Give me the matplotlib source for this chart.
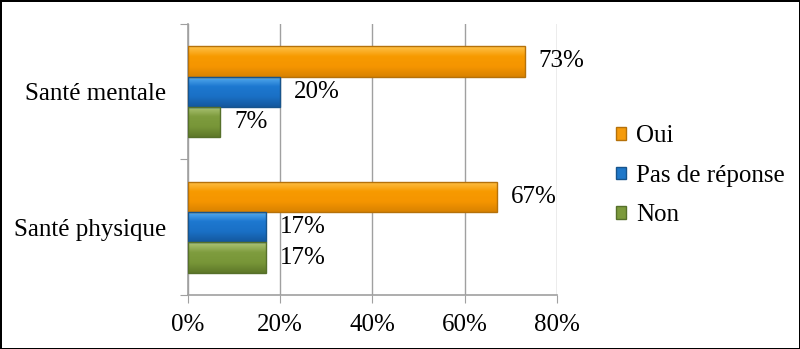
import matplotlib.pyplot as plt
from matplotlib.patches import Patch
from matplotlib.colors import LinearSegmentedColormap
import numpy as np

plt.rcParams['font.family'] = ['Liberation Serif', 'DejaVu Serif']

categories = ['Santé physique', 'Santé mentale']
series = ['Oui', 'Pas de réponse', 'Non']
oui = [67, 73]
pas_de_reponse = [17, 20]
non = [17, 7]
xticks = [0, 20, 40, 60, 80]

colors = ['#F59B0C', '#1F78C9', '#7C9A3C']
edges = ['#B5710A', '#17548C', '#56702A']
# top -> bottom shading for the bevel look
grads = [['#FFC24A', '#F79A00', '#F59500', '#D98200'],
         ['#5AB0F2', '#1D78D0', '#1A70C5', '#14589E'],
         ['#AFC678', '#7E9C3E', '#789638', '#5E7829']]

fig = plt.figure(figsize=(8, 3.49), dpi=100)
fig.patch.set_edgecolor('black')
fig.patch.set_linewidth(2)
ax = fig.add_axes([0.235, 0.155, 0.461, 0.776])

y = np.arange(len(categories))
h = 0.224
offsets = [h, 0, -h]
grad = np.linspace(0, 1, 64).reshape(-1, 1)
for vals, off, c, ec, g in zip([oui, pas_de_reponse, non], offsets, colors, edges, grads):
    bars = ax.barh(y + off, vals, height=h, color=c, linewidth=0, zorder=3)
    cmap = LinearSegmentedColormap.from_list('g', g)
    for b, v in zip(bars, vals):
        x0, y0, w, hh = b.get_x(), b.get_y(), b.get_width(), b.get_height()
        im = ax.imshow(grad, extent=[x0, x0 + w, y0, y0 + hh], origin='upper',
                       aspect='auto', cmap=cmap, zorder=3.2)
        im.set_clip_path(b)
        ax.annotate('%d%%' % v, (w, y0 + hh / 2),
                    xytext=(10, 0), textcoords='offset points',
                    ha='left', va='center', fontsize=18, zorder=4)
    ax.barh(y + off, vals, height=h, fill=False, edgecolor=ec, linewidth=1, zorder=3.4)

ax.set_xlim(0, 80)
ax.set_ylim(-0.5, 1.5)
ax.set_xticks(xticks)
ax.set_xticklabels(['%d%%' % t for t in xticks], fontsize=18)
ax.set_yticks([-0.5, 0.5, 1.5])
ax.set_yticklabels([])
ax.set_yticks(y, minor=True)
ax.set_yticklabels(categories, minor=True, fontsize=18)
ax.tick_params(axis='y', which='major', length=6, color='#A0A0A0', direction='out')
ax.tick_params(axis='y', which='minor', length=0, pad=16)
ax.tick_params(axis='x', length=6, color='#A0A0A0', direction='out', pad=8)

ax.grid(axis='x', color='#A0A0A0', linewidth=1, zorder=0)
for s in ['top', 'right']:
    ax.spines[s].set_visible(False)
for s in ['left', 'bottom']:
    ax.spines[s].set_color('#A0A0A0')
    ax.spines[s].set_linewidth(1.2)

handles = [Patch(facecolor=c, edgecolor=ec) for c, ec in zip(colors, edges)]
fig.legend(handles, series, loc='center left', bbox_to_anchor=(0.77, 0.496),
           frameon=False, fontsize=18, handlelength=0.4, handleheight=0.4,
           handletextpad=0.4, labelspacing=0.7, borderpad=0, borderaxespad=0)

fig.savefig('out.png', dpi=100, edgecolor=fig.get_edgecolor())
